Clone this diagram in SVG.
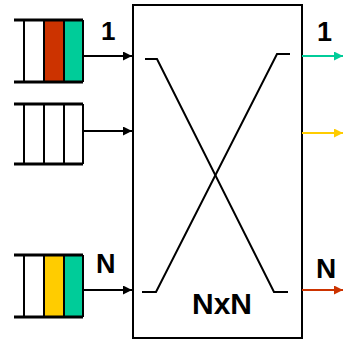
<svg xmlns="http://www.w3.org/2000/svg" width="344" height="343" viewBox="0 0 344 343">
  <defs>
    <marker id="arrowBlack" viewBox="0 0 10 10" refX="10" refY="5" markerWidth="9" markerHeight="9" orient="auto" markerUnits="userSpaceOnUse">
      <path d="M0,0 L10,5 L0,10 z" fill="#000"/>
    </marker>
    <marker id="arrowGreen" viewBox="0 0 10 10" refX="10" refY="5" markerWidth="9" markerHeight="9" orient="auto" markerUnits="userSpaceOnUse">
      <path d="M0,0 L10,5 L0,10 z" fill="#00CC99"/>
    </marker>
    <marker id="arrowYellow" viewBox="0 0 10 10" refX="10" refY="5" markerWidth="9" markerHeight="9" orient="auto" markerUnits="userSpaceOnUse">
      <path d="M0,0 L10,5 L0,10 z" fill="#FFCC00"/>
    </marker>
    <marker id="arrowRed" viewBox="0 0 10 10" refX="10" refY="5" markerWidth="9" markerHeight="9" orient="auto" markerUnits="userSpaceOnUse">
      <path d="M0,0 L10,5 L0,10 z" fill="#CC3300"/>
    </marker>
  </defs>
  <style>
    .rail { stroke: #000; stroke-width: 3; }
    .slot { stroke: #000; stroke-width: 2; }
    .wire { fill: none; stroke: #000; stroke-width: 2; }
    .in { stroke: #000; stroke-width: 2; }
    .out { stroke-width: 2; }
    .lbl { font-family: "Liberation Sans", Arial, sans-serif; font-weight: bold; fill: #000; }
  </style>

  <!-- input queue 1 -->
  <g id="queue1">
    <rect x="44" y="20" width="20" height="62" fill="#CC3300"/>
    <rect x="64" y="20" width="19" height="62" fill="#00CC99"/>
    <line class="rail" x1="14" y1="20" x2="83" y2="20"/>
    <line class="rail" x1="14" y1="82" x2="83" y2="82"/>
    <line class="slot" x1="24" y1="20" x2="24" y2="82"/>
    <line class="slot" x1="44" y1="20" x2="44" y2="82"/>
    <line class="slot" x1="64" y1="20" x2="64" y2="82"/>
    <line class="slot" x1="83" y1="20" x2="83" y2="82"/>
  </g>

  <!-- input queue 2 -->
  <g id="queue2">
    <line class="rail" x1="14" y1="104" x2="83" y2="104"/>
    <line class="rail" x1="14" y1="164" x2="83" y2="164"/>
    <line class="slot" x1="24" y1="104" x2="24" y2="164"/>
    <line class="slot" x1="44" y1="104" x2="44" y2="164"/>
    <line class="slot" x1="64" y1="104" x2="64" y2="164"/>
    <line class="slot" x1="83" y1="104" x2="83" y2="164"/>
  </g>

  <!-- input queue N -->
  <g id="queueN">
    <rect x="44" y="255" width="20" height="62" fill="#FFCC00"/>
    <rect x="64" y="255" width="19" height="62" fill="#00CC99"/>
    <line class="rail" x1="14" y1="255" x2="83" y2="255"/>
    <line class="rail" x1="14" y1="317" x2="83" y2="317"/>
    <line class="slot" x1="24" y1="255" x2="24" y2="317"/>
    <line class="slot" x1="44" y1="255" x2="44" y2="317"/>
    <line class="slot" x1="64" y1="255" x2="64" y2="317"/>
    <line class="slot" x1="83" y1="255" x2="83" y2="317"/>
  </g>

  <!-- switch fabric -->
  <g id="switch">
    <rect x="133" y="5" width="169" height="333" fill="#fff" stroke="#000" stroke-width="2"/>
    <text class="lbl" x="222" y="314" font-size="30" text-anchor="middle">NxN</text>
  </g>

  <!-- connectors -->
  <g id="connectors">
    <line class="in" x1="83" y1="56" x2="132" y2="56" marker-end="url(#arrowBlack)"/>
    <line class="in" x1="83" y1="131" x2="132" y2="131" marker-end="url(#arrowBlack)"/>
    <line class="in" x1="83" y1="290" x2="132" y2="290" marker-end="url(#arrowBlack)"/>
    <polyline class="wire" points="145,59 157,59 274,292 288,292"/>
    <polyline class="wire" points="142,292 156,292 277,54 290,54"/>
    <line class="out" stroke="#00CC99" x1="302" y1="56" x2="343" y2="56" marker-end="url(#arrowGreen)"/>
    <line class="out" stroke="#FFCC00" x1="302" y1="133" x2="343" y2="133" marker-end="url(#arrowYellow)"/>
    <line class="out" stroke="#CC3300" x1="302" y1="290" x2="343" y2="290" marker-end="url(#arrowRed)"/>
  </g>

  <!-- port labels -->
  <g id="labels">
    <text class="lbl" x="101" y="40" font-size="26">1</text>
    <text class="lbl" x="96" y="273" font-size="27">N</text>
    <text class="lbl" x="317" y="41" font-size="27">1</text>
    <text class="lbl" x="316" y="278" font-size="28">N</text>
  </g>
</svg>
